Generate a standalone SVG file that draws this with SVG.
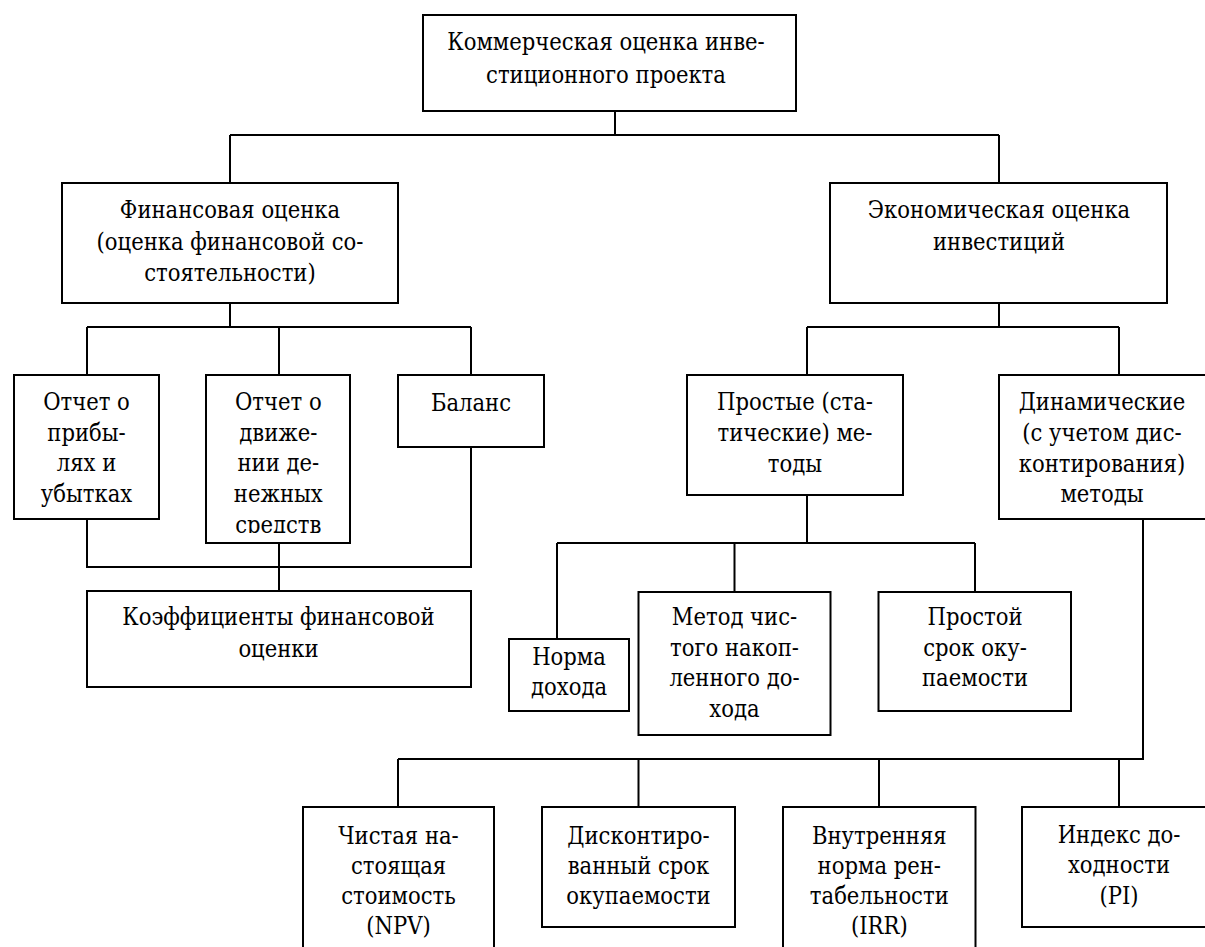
<svg xmlns="http://www.w3.org/2000/svg" width="1205" height="947" viewBox="0 0 1205 947">
<style>
.box{fill:#fff;stroke:#000;stroke-width:2}
.t{font-family:"DejaVu Serif","Liberation Serif",serif;font-stretch:condensed;font-size:23.5px;text-anchor:middle;fill:#000}
.c{fill:none;stroke:#000;stroke-width:2}
</style>
<defs>
<clipPath id="clipB"><rect x="206" y="375" width="144" height="158"/></clipPath>
</defs>
<rect width="1205" height="947" fill="#fff"/>
<g id="connectors">
<path class="c" d="M615,111V135M230,135H999M230,135V183M999,135V183"/>
<path class="c" d="M230,303V327M87,327H471M87,327V375M279,327V375M471,327V375"/>
<path class="c" d="M87,519V567H471V447M279,543V591"/>
<path class="c" d="M999,303V327M807,327H1119M807,327V375M1119,327V375"/>
<path class="c" d="M807,495V543M557,543H975M557,543V639M734.5,543V592M975,543V592"/>
<path class="c" d="M1143,519V759H398M398,759V807M638.5,759V807M879,759V807M1119,759V807"/>
</g>
<g id="n-root">
<rect class="box" x="423" y="15" width="373" height="96"/>
<text class="t" x="606" y="50">Коммерческая оценка инве-</text>
<text class="t" x="606" y="82.5">стиционного проекта</text>
</g>
<g id="n-fin">
<rect class="box" x="62" y="183" width="336" height="120"/>
<text class="t" x="230" y="218">Финансовая оценка</text>
<text class="t" x="230" y="249.5">(оценка финансовой со-</text>
<text class="t" x="230" y="281">стоятельности)</text>
</g>
<g id="n-econ">
<rect class="box" x="830" y="183" width="337" height="120"/>
<text class="t" x="999" y="218">Экономическая оценка</text>
<text class="t" x="999" y="249.5">инвестиций</text>
</g>
<g id="n-profit">
<rect class="box" x="14" y="375" width="145" height="144"/>
<text class="t" x="86.5" y="410">Отчет о</text>
<text class="t" x="86.5" y="440.7">прибы-</text>
<text class="t" x="86.5" y="471.4">лях и</text>
<text class="t" x="86.5" y="502">убытках</text>
</g>
<g id="n-cash">
<rect class="box" x="206" y="375" width="144" height="168"/>
<g clip-path="url(#clipB)">
<text class="t" x="278.3" y="410">Отчет о</text>
<text class="t" x="278.3" y="440.7">движе-</text>
<text class="t" x="278.3" y="471.4">нии де-</text>
<text class="t" x="278.3" y="502">нежных</text>
<text class="t" x="278.3" y="532.7">средств</text>
</g>
</g>
<g id="n-balance">
<rect class="box" x="398" y="375" width="146" height="72"/>
<text class="t" x="471" y="411">Баланс</text>
</g>
<g id="n-coef">
<rect class="box" x="87" y="591" width="384" height="96"/>
<text class="t" x="278.5" y="625">Коэффициенты финансовой</text>
<text class="t" x="278.5" y="656.5">оценки</text>
</g>
<g id="n-simple">
<rect class="box" x="687" y="375" width="216" height="120"/>
<text class="t" x="795" y="410">Простые (ста-</text>
<text class="t" x="795" y="440.7">тические) ме-</text>
<text class="t" x="795" y="471.5">тоды</text>
</g>
<g id="n-dyn">
<rect class="box" x="999" y="375" width="212" height="144"/>
<text class="t" x="1102" y="410">Динамические</text>
<text class="t" x="1102" y="440.7">(с учетом дис-</text>
<text class="t" x="1102" y="471.5">контирования)</text>
<text class="t" x="1102" y="501.5">методы</text>
</g>
<g id="n-norm">
<rect class="box" x="509" y="639" width="120" height="72"/>
<text class="t" x="569" y="665">Норма</text>
<text class="t" x="569" y="695">дохода</text>
</g>
<g id="n-method">
<rect class="box" x="638.5" y="592" width="192" height="143"/>
<text class="t" x="734.5" y="625">Метод чис-</text>
<text class="t" x="734.5" y="655.5">того накоп-</text>
<text class="t" x="734.5" y="686">ленного до-</text>
<text class="t" x="734.5" y="716.5">хода</text>
</g>
<g id="n-payback">
<rect class="box" x="878.5" y="592" width="192.5" height="119"/>
<text class="t" x="975" y="625">Простой</text>
<text class="t" x="975" y="655.5">срок оку-</text>
<text class="t" x="975" y="686">паемости</text>
</g>
<g id="n-npv">
<rect class="box" x="303" y="807" width="191" height="160"/>
<text class="t" x="398.5" y="844">Чистая на-</text>
<text class="t" x="398.5" y="874">стоящая</text>
<text class="t" x="398.5" y="904">стоимость</text>
<text class="t" x="398.5" y="934">(NPV)</text>
</g>
<g id="n-dpp">
<rect class="box" x="542" y="807" width="193" height="120"/>
<text class="t" x="638.5" y="844">Дисконтиро-</text>
<text class="t" x="638.5" y="874">ванный срок</text>
<text class="t" x="638.5" y="904">окупаемости</text>
</g>
<g id="n-irr">
<rect class="box" x="783" y="807" width="192.5" height="160"/>
<text class="t" x="879.3" y="844">Внутренняя</text>
<text class="t" x="879.3" y="874">норма рен-</text>
<text class="t" x="879.3" y="904">табельности</text>
<text class="t" x="879.3" y="934">(IRR)</text>
</g>
<g id="n-pi">
<rect class="box" x="1022" y="807" width="200" height="120"/>
<text class="t" x="1119" y="843">Индекс до-</text>
<text class="t" x="1119" y="873">ходности</text>
<text class="t" x="1119" y="904">(PI)</text>
</g>
</svg>
